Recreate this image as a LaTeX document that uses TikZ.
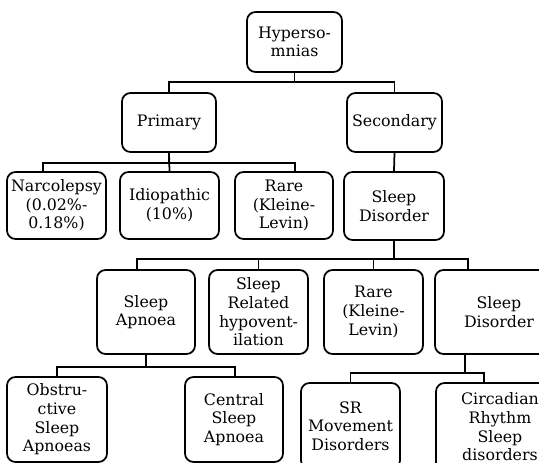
\documentclass[tikz,border=0pt]{standalone}
\usepackage{fontspec}
\setmainfont{DejaVu Serif}
\usepackage{tikz}
\usetikzlibrary{shapes,arrows}

\tikzstyle{box} = [draw, line width=1pt, rounded corners=0.17cm, align=center,
	inner sep=1pt, font=\fontsize{9}{10.6}\selectfont]
\tikzstyle{wire} = [line width=1pt]

\begin{document}
\begin{tikzpicture}[x=0.02cm, y=-0.02cm]
				\useasboundingbox (0,0) rectangle (539,463);
				
				\node [box, minimum width=95*0.02cm, minimum height=60*0.02cm] (hyp) at (294.5,42) {Hyperso-\\mnias};
				
				\node [box, minimum width=94*0.02cm, minimum height=59*0.02cm] (pri) at (169,122.5) {Primary};
				\node [box, minimum width=95*0.02cm, minimum height=59*0.02cm] (sec) at (394.5,122.5) {Secondary};
				
				\node [box, minimum width=99*0.02cm, minimum height=67*0.02cm] (nar)  at (56.5,205.5) {Narcolepsy\\(0.02\%-\\0.18\%)};
				\node [box, minimum width=99*0.02cm, minimum height=67*0.02cm] (idi)  at (169.5,205.5) {Idiopathic\\(10\%)};
				\node [box, minimum width=98*0.02cm, minimum height=67*0.02cm] (rar1) at (284,205.5) {Rare\\(Kleine-\\Levin)};
				\node [box, minimum width=100*0.02cm, minimum height=68*0.02cm] (sd1) at (394,206) {Sleep\\Disorder};
				
				\node [box, minimum width=98*0.02cm, minimum height=84*0.02cm] (sa)   at (146,312) {Sleep\\Apnoea};
				\node [box, minimum width=99*0.02cm, minimum height=84*0.02cm] (srh)  at (258.5,312) {Sleep\\Related\\hypovent-\\ilation};
				\node [box, minimum width=99*0.02cm, minimum height=84*0.02cm] (rar2) at (373.5,312) {Rare\\(Kleine-\\Levin)};
				\node [box, minimum width=128*0.02cm, minimum height=84*0.02cm] (sd2) at (499,312) {Sleep\\Disorder};
				
				\node [box, minimum width=100*0.02cm, minimum height=85*0.02cm] (obs) at (57,419.5) {Obstru-\\ctive\\Sleep\\Apnoeas};
				\node [box, minimum width=98*0.02cm, minimum height=85*0.02cm] (cen) at (234,419.5) {Central\\Sleep\\Apnoea};
				\node [box, minimum width=99*0.02cm, minimum height=86*0.02cm] (srm) at (350.5,426) {SR\\Movement\\Disorders};
				\node [box, minimum width=128*0.02cm, minimum height=88*0.02cm] (cir) at (500,427) {Circadian\\Rhythm\\Sleep\\disorders};
				
				\draw [wire] (hyp.south) -- ++(0,9) -| (pri.north);
				\draw [wire] (hyp.south) -- ++(0,9) -| (sec.north);
				
				\draw [wire] (pri.south) -- ++(0,10) -| (nar.north -| 43,0);
				\draw [wire] (pri.south) -- (idi.north);
				\draw [wire] (pri.south) -- ++(0,10) -| (rar1.north -| 295,0);
				\draw [wire] (sec.south) -- (sd1.north);
				
				\draw [wire] (sd1.south) -- ++(0,18) -| (sa.north -| 137,0);
				\draw [wire] (sd1.south) -- ++(0,18) -| (srh.north);
				\draw [wire] (sd1.south) -- ++(0,18) -| (rar2.north);
				\draw [wire] (sd1.south) -- ++(0,18) -| (sd2.north -| 468,0);
				
				\draw [wire] (sa.south) -- ++(0,12) -| (obs.north);
				\draw [wire] (sa.south) -- ++(0,12) -| (cen.north -| 235,0);
				
				\draw [wire] (sd2.south -| 465,0) -- ++(0,18) -| (srm.north);
				\draw [wire] (sd2.south -| 465,0) -- ++(0,18) -| (cir.north -| 484,0);
				
				\end{tikzpicture}
\end{document}
